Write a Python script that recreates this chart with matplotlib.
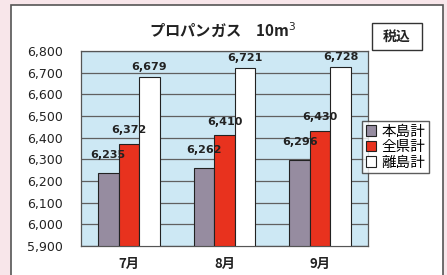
import matplotlib
matplotlib.use("Agg")
import matplotlib.pyplot as plt
import numpy as np
from matplotlib.patches import Rectangle

plt.rcParams['font.family'] = ['Noto Sans CJK JP', 'DejaVu Sans']

months = ["7月", "8月", "9月"]
series = ["本島計", "全県計", "離島計"]
hontou = [6235, 6262, 6296]
zenken = [6372, 6410, 6430]
ritou = [6679, 6721, 6728]
yticks = [5900, 6000, 6100, 6200, 6300, 6400, 6500, 6600, 6700, 6800]

colors = ["#968ca0", "#e8321e", "#ffffff"]
lab_off = [13, 10, 7]

W, H = 447, 275
fig = plt.figure(figsize=(W / 100, H / 100), dpi=100)
fig.patch.set_facecolor("#f8e6ea")
# white panel with gray frame
fig.patches.append(Rectangle((11 / W, -0.05), 432 / W, (H - 5) / H + 0.05,
                             transform=fig.transFigure, facecolor="white",
                             edgecolor="#555555", linewidth=1.2, zorder=-10))
# box for 税込
fig.patches.append(Rectangle((372 / W, 1 - 50 / H), 50 / W, 27 / H,
                             transform=fig.transFigure, facecolor="white",
                             edgecolor="#333333", linewidth=1, zorder=1))

ax = fig.add_axes([81 / W, 29 / H, 287 / W, 195 / H])
ax.set_facecolor("#cde8f4")
x = np.arange(len(months))
bw = 0.215
for i, (vals, c) in enumerate(zip([hontou, zenken, ritou], colors)):
    bars = ax.bar(x + (i - 1) * bw, np.array(vals) - 5900, bw, bottom=5900,
                  color=c, edgecolor="#222222", linewidth=0.8, label=series[i], zorder=3)
    for b, v in zip(bars, vals):
        ax.annotate(f"{v:,}", (b.get_x() + b.get_width() / 2, v),
                    xytext=(0, lab_off[i]), textcoords="offset points",
                    ha="center", va="center", fontsize=8, fontweight="bold",
                    family="DejaVu Sans", color="#222222", zorder=5)

ax.set_xlim(-0.5, 2.5)
ax.set_ylim(5900, 6800)
ax.set_yticks(yticks)
ax.set_yticklabels([f"{t:,}" for t in yticks], fontsize=9, color="#222222",
                   family="DejaVu Sans")
ax.set_xticks(x)
ax.set_xticklabels(months, fontsize=9.5, fontweight="bold", color="#222222")
ax.tick_params(length=0)
ax.tick_params(axis="y", pad=13)
ax.tick_params(axis="x", pad=8)
ax.yaxis.grid(True, color="#606060", linewidth=0.9, zorder=1)
ax.set_axisbelow(True)
for s in ax.spines.values():
    s.set_color("#555555")
    s.set_linewidth(0.9)

fig.text(223 / W, 1 - 30 / H, "プロパンガス　10m$^3$", ha="center", va="center",
         fontsize=11, fontweight="bold", color="#222222")
fig.text(397 / W, 1 - 36.5 / H, "税込", ha="center", va="center", fontsize=10,
         fontweight="bold", color="#222222", zorder=2)

leg = ax.legend(loc="upper left", bbox_to_anchor=(362 / W, 1 - 121 / H),
                bbox_transform=fig.transFigure, fontsize=10.5, frameon=True,
                fancybox=False, edgecolor="#333333", handlelength=0.7,
                handleheight=0.7, handletextpad=0.4, borderpad=0.25,
                labelspacing=0.1, borderaxespad=0)
leg.get_frame().set_linewidth(1)

fig.savefig("out.png", dpi=100, facecolor=fig.get_facecolor())
